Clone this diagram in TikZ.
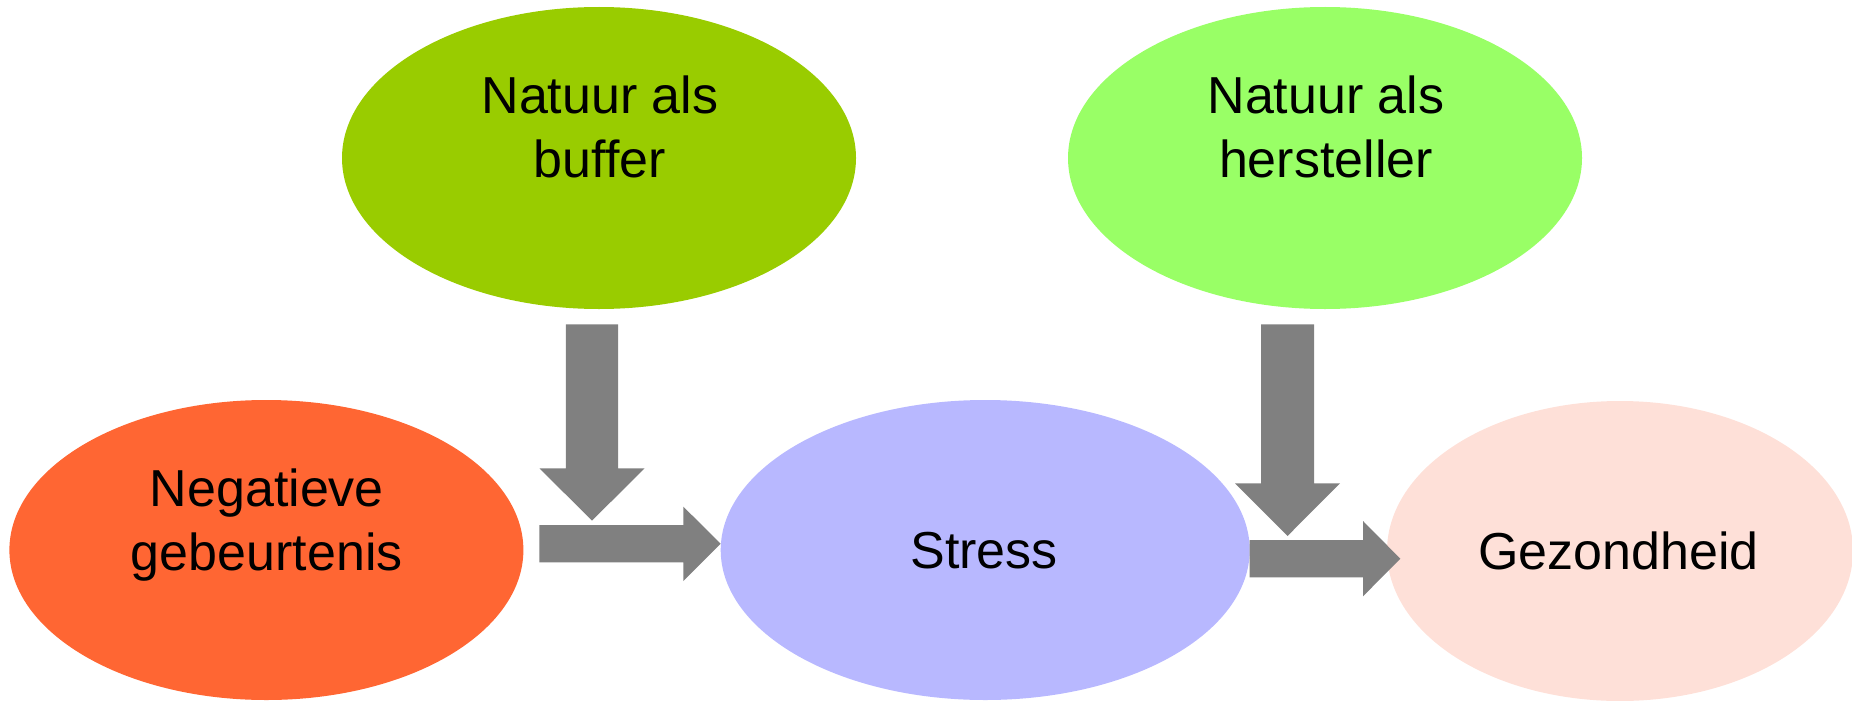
\documentclass[tikz,border=0pt]{standalone}
\usepackage{fontspec}
\setmainfont{Liberation Sans}
\usetikzlibrary{shapes.geometric}
\definecolor{cBuffer}{HTML}{99CC00}
\definecolor{cHerst}{HTML}{99FF66}
\definecolor{cNeg}{HTML}{FF6633}
\definecolor{cStress}{HTML}{B8B8FF}
\definecolor{cGez}{HTML}{FEE0D8}
\definecolor{cArrow}{HTML}{808080}
\begin{document}
\begin{tikzpicture}[x=1pt,y=-1pt,
  blob/.style={ellipse, draw=none, inner sep=0pt, outer sep=0pt},
  lbl/.style={font=\fontsize{52}{64}\selectfont, align=center, inner sep=0pt, text=black},
  blockarrow/.style={fill=cArrow, draw=none}]
\useasboundingbox (0,0) rectangle (1852,701);
% ellipses
\node[blob, fill=cBuffer, minimum width=514pt, minimum height=302pt] (buffer) at (599,158) {};
\node[blob, fill=cHerst, minimum width=514pt, minimum height=302pt] (herst) at (1325,158) {};
\node[blob, fill=cNeg, minimum width=514pt, minimum height=300pt] (neg) at (266.4,550) {};
\node[blob, fill=cStress, minimum width=529pt, minimum height=300pt] (stress) at (985.2,550) {};
\node[blob, fill=cGez, minimum width=466pt, minimum height=300pt] (gez) at (1620,551) {};
% labels
\node[lbl] (buffertxt) at (600,126.7) {Natuur als\\buffer};
\node[lbl] (hersttxt) at (1326,126.7) {Natuur als\\hersteller};
\node[lbl] (negtxt) at (266.8,524.9) {Negatieve\\gebeurtenis};
\node[lbl] (stresstxt) at (984,550.5) {Stress};
\node[lbl] (geztxt) at (1618.5,550.5) {Gezondheid};
% block arrows
\fill[blockarrow] (565.8,324.3) -- (618.2,324.3) -- (618.2,468.3) -- (644.5,468.3)
  -- (592,520.7) -- (539.5,468.3) -- (565.8,468.3) -- cycle;
\fill[blockarrow] (539.3,525) -- (683.4,525) -- (683.4,506.7) -- (720.6,543.7)
  -- (683.4,581) -- (683.4,562.3) -- (539.3,562.3) -- cycle;
\fill[blockarrow] (1261,324.3) -- (1314,324.3) -- (1314,483.3) -- (1340,483.3)
  -- (1287.5,536) -- (1235,483.3) -- (1261,483.3) -- cycle;
\fill[blockarrow] (1249.7,540) -- (1363,540) -- (1363,521) -- (1400.3,558.7)
  -- (1363,596.3) -- (1363,577.3) -- (1249.7,577.3) -- cycle;
\end{tikzpicture}
\end{document}
